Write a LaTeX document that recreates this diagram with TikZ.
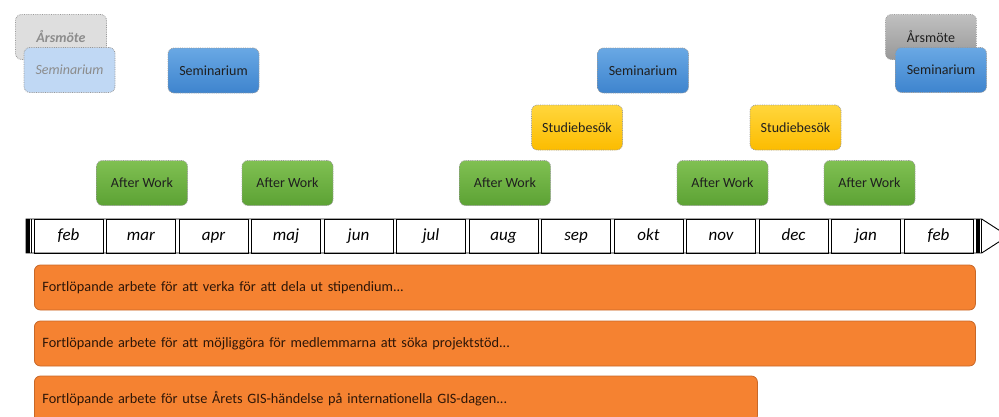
\documentclass[tikz,border=0pt]{standalone}
\usepackage{fontspec}
\setmainfont{Carlito}
\definecolor{bluetop}{RGB}{105,168,228}
\definecolor{bluebot}{RGB}{62,132,206}
\definecolor{greentop}{RGB}{128,192,82}
\definecolor{greenbot}{RGB}{92,162,52}
\definecolor{yeltop}{RGB}{255,214,60}
\definecolor{yelbot}{RGB}{252,188,0}
\definecolor{graytop}{RGB}{192,192,192}
\definecolor{graybot}{RGB}{152,152,152}
\definecolor{fadegray}{RGB}{222,222,222}
\definecolor{fadeblue}{RGB}{192,216,244}
\definecolor{orangefill}{RGB}{245,130,49}
\definecolor{orangeline}{RGB}{200,104,40}
\definecolor{bartext}{RGB}{45,22,8}
\begin{document}
\begin{tikzpicture}[x=1pt,y=-1pt,
  evbox/.style={rounded corners=6pt, minimum width=91pt, minimum height=45pt, inner sep=0pt,
    font=\fontsize{14}{16}\selectfont, text=black!88, draw=black!40, densely dotted, line width=0.8pt},
  blueev/.style={evbox, top color=bluetop, bottom color=bluebot},
  greenev/.style={evbox, top color=greentop, bottom color=greenbot},
  yellowev/.style={evbox, top color=yeltop, bottom color=yelbot},
  grayev/.style={evbox, top color=graytop, bottom color=graybot},
  fadegrayev/.style={evbox, fill=fadegray, text=black!45, font=\fontsize{14}{16}\selectfont\itshape\bfseries},
  fadeblueev/.style={evbox, fill=fadeblue, text=black!45, font=\fontsize{14}{16}\selectfont\itshape},
  cell/.style={draw, line width=0.9pt, minimum width=69pt, minimum height=34pt, inner sep=0pt,
    text height=11pt, text depth=3pt, font=\fontsize{17}{19}\selectfont\itshape},
  bar/.style={rounded corners=6pt, fill=orangefill, draw=orangeline, line width=0.8pt,
    minimum height=45pt, inner xsep=8pt, inner ysep=0pt, align=left, anchor=west,
    text=bartext, font=\fontsize{14.3}{16}\selectfont}
]
\useasboundingbox (0,0) rectangle (999,416);
\clip (0,0) rectangle (999,416);

% timeline frame
\draw[line width=0.9pt] (26,219) -- (981.7,219) -- (1008,236) -- (981.7,253) -- (26,253) -- cycle;
\fill (26,219) rectangle (30,253);
\fill (975.5,219) rectangle (980,253);
\draw[line width=0.9pt] (31.6,219) -- (31.6,253);
\draw[line width=0.9pt] (981.7,219) -- (981.7,253);
\foreach \m [count=\i from 0] in {feb,mar,apr,maj,jun,jul,aug,sep,okt,nov,dec,jan,feb}{
  \node[cell] (m\i) at ({68.5+72.5*\i},236) {\m};
}

% events
\node[fadegrayev] (ars1) at (61,37) {Årsmöte};
\node[fadeblueev] (sem1) at (69.5,70) {Seminarium};
\node[blueev] (sem2) at (213.5,70.5) {Seminarium};
\node[blueev] (sem3) at (643,70.5) {Seminarium};
\node[grayev] (ars2) at (931,37) {Årsmöte};
\node[blueev] (sem4) at (941,70) {Seminarium};

\node[yellowev] (stu1) at (577,127.5) {Studiebesök};
\node[yellowev] (stu2) at (795.5,127.5) {Studiebesök};

\node[greenev] (aw1) at (142,183) {After Work};
\node[greenev] (aw2) at (287.5,183) {After Work};
\node[greenev] (aw3) at (505,183) {After Work};
\node[greenev] (aw4) at (722.5,183) {After Work};
\node[greenev] (aw5) at (869.5,183) {After Work};

% ongoing work bars
\node[bar, minimum width=941pt, text width=925pt] (bar1) at (34,287.5)
  {Fortlöpande arbete för att verka för att dela ut stipendium...};
\node[bar, minimum width=941pt, text width=925pt] (bar2) at (34,343.5)
  {Fortlöpande arbete för att möjliggöra för medlemmarna att söka projektstöd...};
\node[bar, minimum width=723pt, text width=707pt, minimum height=46pt] (bar3) at (34,399)
  {Fortlöpande arbete för utse Årets GIS-händelse på internationella GIS-dagen...\\[3pt]};
\end{tikzpicture}
\end{document}
